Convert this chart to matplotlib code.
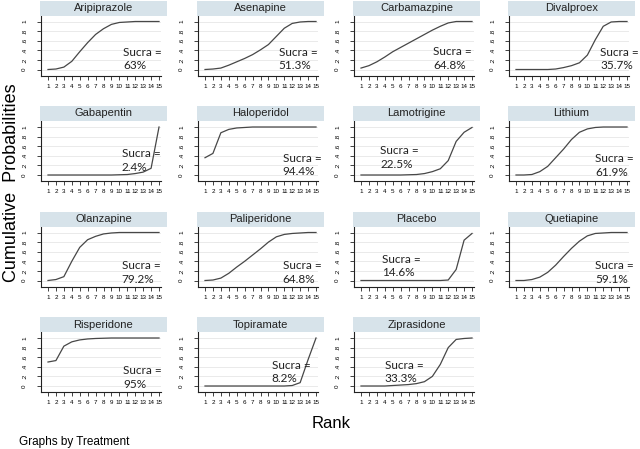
import matplotlib
matplotlib.use('Agg')
import matplotlib.pyplot as plt
from matplotlib.patches import Rectangle

# ranks on the x axis
ranks = list(range(1, 16))

treatments = ['Aripiprazole', 'Asenapine', 'Carbamazpine', 'Divalproex',
              'Gabapentin', 'Haloperidol', 'Lamotrigine', 'Lithium',
              'Olanzapine', 'Paliperidone', 'Placebo', 'Quetiapine',
              'Risperidone', 'Topiramate', 'Ziprasidone']
sucra = ['63%', '51.3%', '64.8%', '35.7%', '2.4%', '94.4%', '22.5%', '61.9%',
         '79.2%', '64.8%', '14.6%', '59.1%', '95%', '8.2%', '33.3%']

# cumulative ranking probabilities
aripiprazole = [0, 0.01, 0.05, 0.17, 0.37, 0.56, 0.73, 0.85, 0.94, 0.98, 0.99, 1, 1, 1, 1]
asenapine = [0, 0.01, 0.03, 0.09, 0.16, 0.23, 0.31, 0.41, 0.52, 0.69, 0.86, 0.96, 0.99, 1, 1]
carbamazpine = [0.03, 0.08, 0.16, 0.26, 0.37, 0.46, 0.55, 0.64, 0.73, 0.82, 0.90, 0.97, 1, 1, 1]
divalproex = [0, 0, 0, 0, 0, 0.01, 0.04, 0.08, 0.14, 0.30, 0.62, 0.90, 0.99, 1, 1]
gabapentin = [0, 0, 0, 0, 0, 0, 0, 0, 0, 0.005, 0.01, 0.03, 0.06, 0.14, 1]
haloperidol = [0.36, 0.45, 0.88, 0.95, 0.98, 0.99, 1, 1, 1, 1, 1, 1, 1, 1, 1]
lamotrigine = [0, 0, 0, 0, 0, 0, 0.005, 0.01, 0.03, 0.07, 0.13, 0.30, 0.70, 0.89, 0.99]
lithium = [0, 0, 0.01, 0.07, 0.18, 0.36, 0.54, 0.74, 0.89, 0.96, 0.99, 1, 1, 1, 1]
olanzapine = [0, 0.02, 0.08, 0.40, 0.69, 0.85, 0.92, 0.97, 0.99, 1, 1, 1, 1, 1, 1]
paliperidone = [0, 0.01, 0.05, 0.15, 0.28, 0.40, 0.53, 0.66, 0.80, 0.91, 0.96, 0.98, 0.99, 1, 1]
placebo = [0, 0, 0, 0, 0, 0, 0, 0, 0, 0, 0, 0.01, 0.23, 0.84, 0.98]
quetiapine = [0, 0, 0.02, 0.07, 0.17, 0.32, 0.50, 0.67, 0.82, 0.93, 0.98, 0.99, 1, 1, 1]
risperidone = [0.50, 0.53, 0.83, 0.92, 0.96, 0.98, 0.99, 0.995, 1, 1, 1, 1, 1, 1, 1]
topiramate = [0, 0, 0, 0, 0, 0, 0, 0, 0, 0, 0, 0.01, 0.07, 0.55, 1]
ziprasidone = [0, 0, 0, 0, 0.01, 0.02, 0.03, 0.05, 0.09, 0.20, 0.45, 0.80, 0.97, 0.99, 1]

curves = [aripiprazole, asenapine, carbamazpine, divalproex, gabapentin,
          haloperidol, lamotrigine, lithium, olanzapine, paliperidone,
          placebo, quetiapine, risperidone, topiramate, ziprasidone]

# where the "Sucra =" note sits in each panel (data coords: left x, middle y)
note_x = [10.5, 10.3, 10.1, 11.6, 10.3, 10.8, 3.4, 11.0, 10.3, 10.8, 3.6, 11.0, 10.5, 9.4, 4.0]
note_y = [0.22, 0.22, 0.23, 0.22, 0.30, 0.21, 0.36, 0.20, 0.17, 0.17, 0.30, 0.17, 0.17, 0.29, 0.29]

W, H = 640, 449
col_left = [40, 197, 353, 508]
row_top = [0.5, 106, 211.5, 317]

fig = plt.figure(figsize=(W / 100, H / 100), dpi=100)


def fx(px):
    return px / W


def fy(py):
    return 1 - py / H


for i, name in enumerate(treatments):
    r, c = divmod(i, 4)
    L, T = col_left[c], row_top[r]
    ax = fig.add_axes([fx(L + 1), fy(T + 75), 120 / W, 60 / H])
    ax.plot(ranks, curves[i], color='#474747', lw=0.9)
    ax.set_xlim(0.117, 15.25)
    ax.set_ylim(-0.125, 1.125)
    ax.set_xticks(ranks)
    ax.set_xticklabels([str(k) for k in ranks], fontsize=4.5, family='Liberation Sans')
    ax.set_yticks([0, 0.2, 0.4, 0.6, 0.8, 1])
    ax.set_yticklabels(['0', '.2', '.4', '.6', '.8', '1'], fontsize=4.5,
                       rotation=90, va='center', family='Liberation Sans')
    ax.tick_params(axis='x', length=3, width=0.6, pad=3, color='#222222')
    ax.tick_params(axis='y', length=3, width=0.6, pad=7, color='#222222')
    ax.grid(axis='y', color='#e6e6e6', lw=0.6)
    ax.set_axisbelow(True)
    for s in ['top', 'right']:
        ax.spines[s].set_visible(False)
    for s in ['left', 'bottom']:
        ax.spines[s].set_color('#222222')
        ax.spines[s].set_linewidth(0.8)

    # strip title bar like Stata's by() graphs
    fig.add_artist(Rectangle((fx(L), fy(T + 15)), 127 / W, 15 / H,
                             transform=fig.transFigure, color='#d7e3ea', lw=0))
    fig.text(fx(L + 63.5), fy(T + 7.5), name, ha='center', va='center',
             fontsize=8, family='Liberation Sans', color='#222222')

    ax.text(note_x[i], note_y[i], 'Sucra =\n' + sucra[i], ha='left', va='center',
            fontsize=8.5, family='Lato', color='#222222', linespacing=1.3)

fig.text(fx(12), fy(183), 'Cumulative  Probabilities', rotation=90,
         ha='center', va='center', fontsize=13, family='Liberation Sans')
fig.text(fx(331), fy(423), 'Rank', ha='center', va='center',
         fontsize=12, family='Liberation Sans')
fig.text(fx(19), fy(442), 'Graphs by Treatment', ha='left', va='center',
         fontsize=8.5, family='Liberation Sans')

plt.savefig('out.png', dpi=100)
